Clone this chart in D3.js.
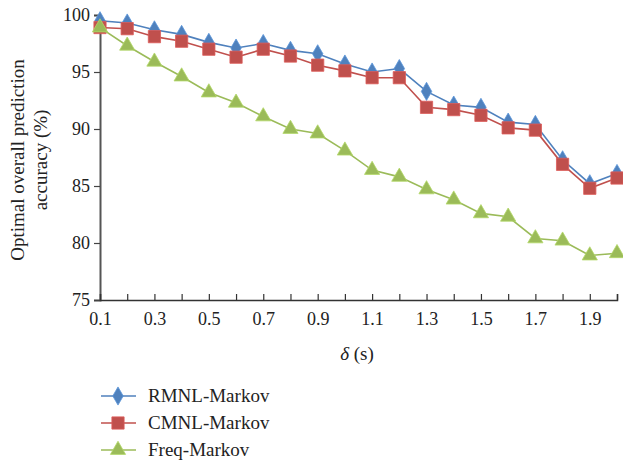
<!DOCTYPE html>
<html>
<head>
<meta charset="utf-8">
<script src="https://cdn.jsdelivr.net/npm/d3@7"></script>
<style>
  body { margin: 0; background: #fff; }
  svg text { font-family: "Liberation Serif", "DejaVu Serif", serif; fill: #222; }
</style>
</head>
<body>
<div id="chart"></div>
<script>
// delta values (s)
const deltas = [0.1, 0.2, 0.3, 0.4, 0.5, 0.6, 0.7, 0.8, 0.9, 1.0,
                1.1, 1.2, 1.3, 1.4, 1.5, 1.6, 1.7, 1.8, 1.9, 2.0];
const rmnlMarkov = [99.5, 99.3, 98.7, 98.3, 97.6, 97.1, 97.5, 96.9, 96.6, 95.7,
                    95.0, 95.3, 93.3, 92.1, 91.9, 90.6, 90.4, 87.3, 85.2, 86.1];
const cmnlMarkov = [98.9, 98.8, 98.1, 97.7, 97.0, 96.3, 97.0, 96.4, 95.6, 95.1,
                    94.5, 94.5, 91.9, 91.7, 91.2, 90.1, 89.9, 86.9, 84.8, 85.7];
const freqMarkov = [98.9, 97.3, 95.9, 94.6, 93.2, 92.3, 91.1, 90.0, 89.6, 88.1,
                    86.4, 85.8, 84.7, 83.8, 82.6, 82.3, 80.4, 80.2, 78.9, 79.1];
const yTicks = [75, 80, 85, 90, 95, 100];
const xTickLabels = [0.1, 0.3, 0.5, 0.7, 0.9, 1.1, 1.3, 1.5, 1.7, 1.9];

const width = 623, height = 464;
const svg = d3.select("#chart").append("svg")
    .attr("width", width)
    .attr("height", height);

const x = d3.scaleLinear().domain([0.1, 2.0]).range([100, 617]);
const y = d3.scaleLinear().domain([75, 100]).range([300, 15]);

const series = [
    { name: "RMNL-Markov", values: rmnlMarkov, color: "#4F81BD", symbol: d3.symbolDiamond, size: 95 },
    { name: "CMNL-Markov", values: cmnlMarkov, color: "#C0504D", symbol: d3.symbolSquare, size: 150 },
    { name: "Freq-Markov", values: freqMarkov, color: "#9BBB59", symbol: d3.symbolTriangle, size: 100 }
];

// Y axis
const yAxis = svg.append("g")
    .attr("transform", `translate(${x(0.1)},0)`)
    .call(d3.axisLeft(y).tickValues(yTicks).tickSize(6).tickPadding(4).tickFormat(d3.format("d")));
yAxis.selectAll("text").style("font-size", "18px").attr("fill", "#222");
yAxis.selectAll("line").attr("stroke", "#444").attr("stroke-width", 1.2);
yAxis.select(".domain").attr("stroke", "#555").attr("stroke-width", 2);

// X axis, ticks inside
const xAxis = svg.append("g")
    .attr("transform", `translate(0,${y(75)})`)
    .call(d3.axisBottom(x).tickValues(deltas).tickSize(-6).tickPadding(12)
        .tickFormat((d) => xTickLabels.some((v) => Math.abs(v - d) < 1e-9) ? d3.format(".1f")(d) : ""));
xAxis.selectAll("text").style("font-size", "18px").attr("fill", "#222");
xAxis.selectAll("line").attr("stroke", "#333").attr("stroke-width", 1.2);
xAxis.select(".domain").attr("stroke", "#333").attr("stroke-width", 1.5);

// Axis titles
const yTitle = svg.append("text")
    .attr("transform", "translate(0,160) rotate(-90)")
    .style("text-anchor", "middle")
    .style("font-size", "19px");
yTitle.append("tspan").attr("x", 0).attr("y", 24).text("Optimal overall prediction");
yTitle.append("tspan").attr("x", 0).attr("y", 47).text("accuracy (%)");

const xTitle = svg.append("text")
    .attr("x", 357)
    .attr("y", 360)
    .style("text-anchor", "middle")
    .style("font-size", "19px");
xTitle.append("tspan").style("font-style", "italic").text("δ");
xTitle.append("tspan").text(" (s)");

// Lines and markers
const line = d3.line()
    .x((d, i) => x(deltas[i]))
    .y((d) => y(d));

series.forEach((s) => {
    svg.append("path")
        .datum(s.values)
        .attr("d", line)
        .attr("fill", "none")
        .attr("stroke", s.color)
        .attr("stroke-width", 1.6);

    svg.append("g")
        .selectAll("path")
        .data(s.values)
        .join("path")
            .attr("d", d3.symbol().type(s.symbol).size(s.size))
            .attr("transform", (d, i) => `translate(${x(deltas[i])},${y(d)})`)
            .attr("fill", s.color)
            .attr("stroke", d3.color(s.color).brighter(0.4))
            .attr("stroke-width", 0.8);
});

// Legend
const legend = svg.append("g");
series.forEach((s, i) => {
    const ly = 396 + i * 27;
    legend.append("line")
        .attr("x1", 101).attr("x2", 136)
        .attr("y1", ly).attr("y2", ly)
        .attr("stroke", s.color)
        .attr("stroke-width", 1.6);
    legend.append("path")
        .attr("d", d3.symbol().type(s.symbol).size(s.size))
        .attr("transform", `translate(118,${ly})`)
        .attr("fill", s.color)
        .attr("stroke", d3.color(s.color).brighter(0.4))
        .attr("stroke-width", 0.8);
    legend.append("text")
        .attr("x", 148)
        .attr("y", ly + 6)
        .style("font-size", "19px")
        .text(s.name);
});
</script>
</body>
</html>
